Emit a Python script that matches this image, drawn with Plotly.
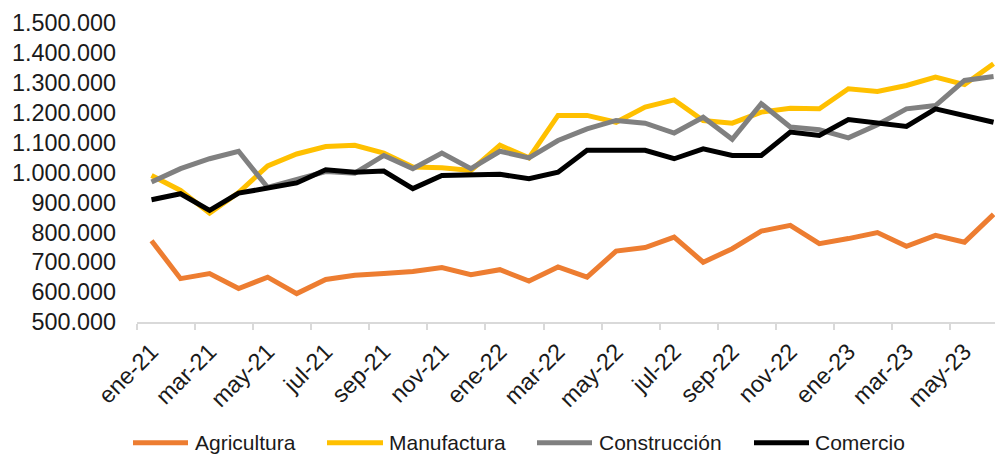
import plotly.graph_objects as go

months = ["ene-21","feb-21","mar-21","abr-21","may-21","jun-21","jul-21","ago-21","sep-21","oct-21","nov-21","dic-21",
          "ene-22","feb-22","mar-22","abr-22","may-22","jun-22","jul-22","ago-22","sep-22","oct-22","nov-22","dic-22",
          "ene-23","feb-23","mar-23","abr-23","may-23","jun-23"]

agricultura = [772000, 645000, 662000, 612000, 650000, 595000, 642000, 656000, 662000, 669000, 682000, 658000,
               675000, 637000, 684000, 650000, 737000, 749000, 784000, 700000, 745000, 804000, 823000, 762000,
               779000, 799000, 753000, 790000, 767000, 860000]
manufactura = [990000, 940000, 864000, 933000, 1022000, 1062000, 1087000, 1091000, 1065000, 1018000, 1016000, 1007000,
               1091000, 1049000, 1191000, 1191000, 1168000, 1219000, 1243000, 1174000, 1165000, 1202000, 1215000, 1213000,
               1280000, 1271000, 1291000, 1319000, 1294000, 1364000]
construccion = [968000, 1013000, 1046000, 1071000, 950000, 975000, 1003000, 998000, 1057000, 1013000, 1065000, 1013000,
                1071000, 1049000, 1107000, 1146000, 1174000, 1165000, 1132000, 1185000, 1111000, 1230000, 1152000, 1143000,
                1116000, 1160000, 1213000, 1224000, 1308000, 1321000]
comercio = [909000, 929000, 873000, 931000, 948000, 965000, 1009000, 1001000, 1005000, 946000, 990000, 990000,
            994000, 979000, 1001000, 1074000, 1076000, 1074000, 1046000, 1079000, 1057000, 1057000, 1135000, 1124000,
            1177000, 1165000, 1154000, 1213000, 1191000, 1168000]

series_names = ["Agricultura", "Manufactura", "Construcción", "Comercio"]
series_values = [agricultura, manufactura, construccion, comercio]
colors = ["#ED7D31", "#FFC000", "#808080", "#000000"]

x = list(range(len(months)))
fig = go.Figure()
for name, vals, c in zip(series_names, series_values, colors):
    fig.add_trace(go.Scatter(x=x, y=vals, mode="lines", name=name,
                             line=dict(color=c, width=5), showlegend=False))

FONT = "Liberation Sans, Arial, sans-serif"
W, H = 995, 456
ml, mr, mt, mb = 137, 0, 22.5, 134.3

fig.update_layout(
    width=W, height=H,
    margin=dict(l=ml, r=mr, t=mt, b=mb),
    paper_bgcolor="white", plot_bgcolor="white",
    separators=",.",
    font=dict(family=FONT, size=21, color="#1a1a1a"),
    xaxis=dict(range=[-0.5, 29.05], tickvals=x[::2], ticktext=months[::2], tickangle=-45,
               showgrid=False, zeroline=False, showline=True, linecolor="#d9d9d9", linewidth=1.5,
               ticks="", ticklabelstandoff=5,
               minor=dict(ticks="outside", tick0=-0.5, dtick=2, ticklen=6, tickcolor="#d9d9d9", tickwidth=1.5, showgrid=False),
               tickfont=dict(size=23.4)),
    yaxis=dict(range=[500000, 1500000], dtick=100000, tickformat=",.0f", showgrid=False,
               zeroline=False, showline=False, ticks="", ticklabelstandoff=20, tickfont=dict(size=23.4)),
)

# custom legend (bottom)
leg_y = 442.5
items = [(133, 188, 193), (327, 383, 387), (537, 592, 597), (754, 809, 813)]
pw = W - ml - mr
ph = H - mt - mb
for (x0, x1, tx), name, c in zip(items, series_names, colors):
    yy = (H - mb - leg_y) / ph
    fig.add_shape(type="line", xref="paper", yref="paper",
                  x0=(x0 - ml) / pw, x1=(x1 - ml) / pw, y0=yy, y1=yy,
                  line=dict(color=c, width=5))
    fig.add_annotation(xref="paper", yref="paper", x=(tx - ml) / pw, y=yy, text=name,
                       showarrow=False, xanchor="left", yanchor="middle",
                       font=dict(size=21, color="#1a1a1a"))

fig.write_html("out.html", config={"displayModeBar": False},
               post_script="document.body.style.margin='0';document.body.style.overflow='hidden';")
